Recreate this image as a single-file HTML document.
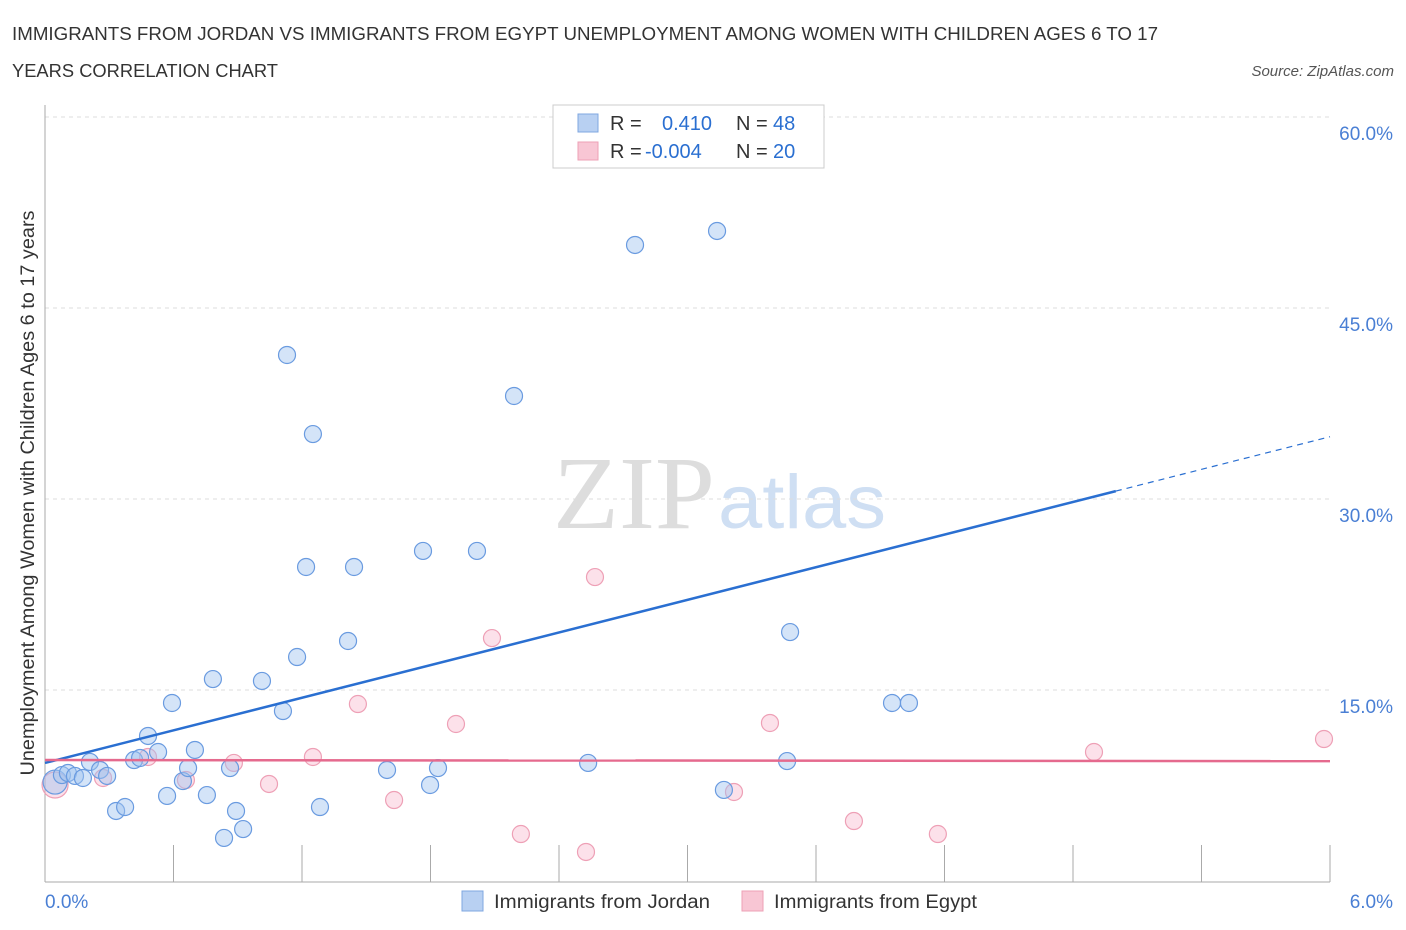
<!DOCTYPE html>
<html><head><meta charset="utf-8"><style>
body{margin:0;background:#fff;font-family:"Liberation Sans",sans-serif;}
</style></head><body>
<svg width="1406" height="930" xmlns="http://www.w3.org/2000/svg" style="display:block">
<text x="12" y="40" font-size="18" textLength="1146" lengthAdjust="spacingAndGlyphs" fill="#333">IMMIGRANTS FROM JORDAN VS IMMIGRANTS FROM EGYPT UNEMPLOYMENT AMONG WOMEN WITH CHILDREN AGES 6 TO 17</text>
<text x="12" y="77" font-size="18" textLength="266" lengthAdjust="spacingAndGlyphs" fill="#333">YEARS CORRELATION CHART</text>
<text x="1394" y="76" font-size="15" fill="#555" font-style="italic" text-anchor="end">Source: ZipAtlas.com</text>
<text x="553" y="528" font-size="104" textLength="162" lengthAdjust="spacingAndGlyphs" font-family="Liberation Serif,serif" fill="#ddd">ZIP</text>
<text x="718" y="528" font-size="76" textLength="168" lengthAdjust="spacingAndGlyphs" fill="#cfdff3">atlas</text>
<g id="grid"></g>
<g id="axes"></g>
<g id="pts"></g>
<g id="lines"></g>
<text transform="translate(34,493) rotate(-90)" font-size="19" textLength="565" lengthAdjust="spacingAndGlyphs" fill="#333" text-anchor="middle">Unemployment Among Women with Children Ages 6 to 17 years</text>
<g>
<rect x="553" y="105" width="271" height="63" fill="#fff" stroke="#ccc"/>
<rect x="578" y="114" width="20" height="18" fill="#b8d0f2" stroke="#7fa7e0"/>
<rect x="578" y="142" width="20" height="18" fill="#f8c6d4" stroke="#eea0b6"/>
<text x="610" y="130" font-size="20" fill="#333">R =</text>
<text x="662" y="130" font-size="20" fill="#2a6fd1">0.410</text>
<text x="736" y="130" font-size="20" fill="#333">N =</text>
<text x="773" y="130" font-size="20" fill="#2a6fd1">48</text>
<text x="610" y="158" font-size="20" fill="#333">R =</text>
<text x="645" y="158" font-size="20" fill="#2a6fd1">-0.004</text>
<text x="736" y="158" font-size="20" fill="#333">N =</text>
<text x="773" y="158" font-size="20" fill="#2a6fd1">20</text>
</g>
<g>
<rect x="462" y="891" width="21" height="20" fill="#b8d0f2" stroke="#7fa7e0"/>
<text x="494" y="908" font-size="19" textLength="216" lengthAdjust="spacingAndGlyphs" fill="#333">Immigrants from Jordan</text>
<rect x="742" y="891" width="21" height="20" fill="#f8c6d4" stroke="#eea0b6"/>
<text x="774" y="908" font-size="19" textLength="203" lengthAdjust="spacingAndGlyphs" fill="#333">Immigrants from Egypt</text>
</g>
</svg>
<script>
const jordanX=[0.047,0.079,0.107,0.14,0.177,0.21,0.257,0.29,0.332,0.374,0.416,0.444,0.481,0.528,0.57,0.593,0.644,0.668,0.70,0.756,0.784,0.864,0.892,0.925,0.836,1.013,1.111,1.13,1.177,1.219,1.251,1.284,1.415,1.443,1.597,1.765,1.798,1.835,2.017,2.19,2.536,2.755,3.138,3.17,3.465,3.479,3.955,4.034];
const jordanY=[7.77,8.32,8.48,8.25,8.09,9.35,8.72,8.25,5.5,5.81,9.5,9.66,11.39,10.13,6.68,13.98,7.85,8.87,10.29,6.75,15.86,8.87,5.5,4.08,3.38,15.71,13.35,41.31,17.59,24.66,35.1,5.81,18.85,24.66,8.72,25.92,7.54,8.87,25.92,38.09,9.27,49.95,51.05,7.15,9.42,19.55,13.98,13.98];
const egyptX=[0.047,0.271,0.481,0.658,0.882,1.046,1.251,1.461,1.63,1.919,2.087,2.222,2.526,2.568,3.217,3.385,3.777,4.169,4.898,5.972];
const egyptY=[7.54,8.09,9.74,7.93,9.27,7.62,9.74,13.9,6.36,12.33,19.08,3.69,2.28,23.87,6.99,12.41,4.71,3.69,10.13,11.15];
const yTicks=[15,30,45,60];
const xTickLabels=["0.0%","6.0%"];
const jordanTrend=[9.27,4.27];
const egyptTrend=[9.5,-0.015];
const X=v=>45+v/6*1285, Y=v=>881-v/15*191;
const NS="http://www.w3.org/2000/svg";
function mk(p,tag,a){const e=document.createElementNS(NS,tag);for(const k in a)e.setAttribute(k,a[k]);p.appendChild(e);return e;}
const grid=document.getElementById('grid'),axes=document.getElementById('axes'),pts=document.getElementById('pts'),lines=document.getElementById('lines');
yTicks.forEach(t=>{const l=mk(grid,'line',{x1:45,x2:1330,y1:Y(t),y2:Y(t),stroke:'#ddd','stroke-dasharray':'4,4'});


const tx=mk(grid,'text',{x:1393,y:Y(t)+23,'font-size':19,fill:'#4a7fd4','text-anchor':'end'});tx.textContent=t.toFixed(1)+'%';

});
mk(axes,'line',{x1:45,x2:45,y1:105,y2:882,stroke:'#aaa'});
mk(axes,'line',{x1:45,x2:1330,y1:882,y2:882,stroke:'#aaa'});
for(let i=0;i<=10;i++){mk(axes,'line',{x1:X(i*0.6),x2:X(i*0.6),y1:845,y2:882,stroke:'#aaa'});}
[[0,45,'start'],[1,1393,'end']].forEach(([i,x,a])=>{const t=mk(axes,'text',{x:x,y:908,'font-size':19,fill:'#4a7fd4','text-anchor':a});t.textContent=xTickLabels[i];

});
egyptX.forEach((x,i)=>{const c=mk(pts,'circle',{cx:X(x),cy:Y(egyptY[i]),r:i==0?13:8.5,fill:'rgba(245,170,195,0.35)',stroke:'#eea0b6','stroke-width':1.2});

});
jordanX.forEach((x,i)=>{const c=mk(pts,'circle',{cx:X(x),cy:Y(jordanY[i]),r:i==0?12:8.5,fill:'rgba(160,195,240,0.45)',stroke:'#6a9be0','stroke-width':1.2});

});
const j=x=>jordanTrend[0]+jordanTrend[1]*x, e=x=>egyptTrend[0]+egyptTrend[1]*x;
let l=mk(lines,'line',{x1:X(0),y1:Y(j(0)),x2:X(5),y2:Y(j(5)),stroke:'#2a6fd1','stroke-width':2.5});


l=mk(lines,'line',{x1:X(5),y1:Y(j(5)),x2:X(6),y2:Y(j(6)),stroke:'#2a6fd1','stroke-width':1.2,'stroke-dasharray':'6,5'});


l=mk(lines,'line',{x1:X(0),y1:Y(e(0)),x2:X(6),y2:Y(e(6)),stroke:'#e56a8e','stroke-width':2.5});


</script>
</body></html>
